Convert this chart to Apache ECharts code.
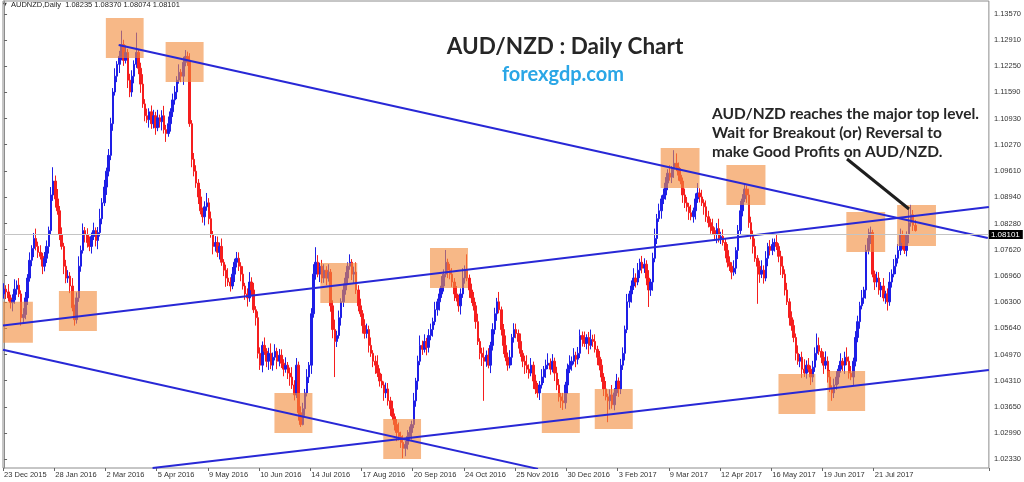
<!DOCTYPE html>
<html><head><meta charset="utf-8">
<script src="https://cdn.jsdelivr.net/npm/echarts@6/dist/echarts.min.js"></script>
<style>html,body{margin:0;padding:0;background:#fff}#c{width:1024px;height:482px}</style>
</head><body><div id="c"></div>
<script>
// ---- data (prices stored as pips above 1.0000, i.e. price = 1 + v/10000) ----
const xLabels = ['23 Dec 2015','28 Jan 2016','2 Mar 2016','5 Apr 2016','9 May 2016','10 Jun 2016','14 Jul 2016','17 Aug 2016','20 Sep 2016','24 Oct 2016','25 Nov 2016','30 Dec 2016','3 Feb 2017','9 Mar 2017','12 Apr 2017','16 May 2017','19 Jun 2017','21 Jul 2017'];
const yTicks = [1.02330,1.02990,1.03650,1.04310,1.04970,1.05640,1.06300,1.06960,1.07620,1.08280,1.08940,1.09610,1.10270,1.10930,1.11590,1.12250,1.12910,1.13570];
const closeP = [
662,655,640,628,635,662,672,650,590,598,
640,690,735,765,790,770,755,745,720,740,
770,810,900,935,890,860,800,770,720,690,
695,670,615,585,640,720,760,810,800,780,
770,795,810,785,805,840,880,920,960,1000,
1080,1160,1200,1230,1250,1280,1240,1260,1190,1160,
1200,1230,1260,1220,1180,1130,1100,1090,1110,1080,
1100,1070,1095,1085,1100,1065,1055,1080,1110,1140,
1160,1190,1210,1200,1235,1250,1240,1080,990,960,
930,895,860,845,870,880,840,800,770,780,
755,770,730,710,690,680,670,700,730,740,
720,700,670,650,640,680,660,610,590,500,
470,520,505,480,500,470,490,505,480,495,
475,460,470,450,440,420,395,470,350,320,
360,400,440,470,600,700,730,700,720,690,
710,690,705,620,560,530,545,590,630,660,
690,720,730,700,705,660,620,600,570,550,
560,520,500,480,470,450,430,420,400,410,
380,360,340,320,300,290,275,260,270,290,
300,320,380,430,480,520,510,530,515,545,
560,580,610,630,650,670,700,730,710,700,
680,650,640,620,650,690,710,690,660,640,
620,580,530,500,490,480,495,470,520,560,
600,630,610,560,520,490,470,490,540,560,
550,530,500,480,470,460,450,470,430,410,
400,420,440,460,470,475,460,480,450,420,
390,380,375,420,460,470,480,495,485,500,
545,535,525,540,520,535,530,510,490,470,
440,410,390,380,395,370,400,430,410,470,
500,560,630,650,670,690,680,710,730,715,
725,690,660,680,740,790,840,860,890,900,
930,955,945,965,980,970,950,935,900,880,
870,855,845,860,890,905,895,880,870,845,
830,820,810,800,815,790,795,780,760,730,
720,705,715,760,810,860,890,915,900,830,
800,770,740,720,700,710,690,740,770,760,
775,780,770,745,720,700,660,630,590,570,
540,500,480,490,460,450,470,460,440,465,
500,520,505,490,470,480,440,410,400,420,
440,460,480,470,490,480,450,440,480,540,
580,620,640,660,760,790,805,700,680,690,
660,670,640,650,630,680,700,720,740,760,
800,780,760,800,830,850,823.5,810.1];
const openP = [
650,662,655,640,628,635,662,672,650,590,
598,640,690,735,765,790,770,755,745,720,
740,770,810,900,935,890,860,800,770,720,
690,695,670,615,585,640,720,760,810,800,
780,770,795,810,785,805,840,880,920,960,
1000,1080,1160,1200,1230,1250,1280,1240,1260,1190,
1160,1200,1230,1260,1220,1180,1130,1100,1090,1110,
1080,1100,1070,1095,1085,1100,1065,1055,1080,1110,
1140,1160,1190,1210,1200,1235,1250,1240,1080,990,
960,930,895,860,845,870,880,840,800,770,
780,755,770,730,710,690,680,670,700,730,
740,720,700,670,650,640,680,660,610,590,
500,470,520,505,480,500,470,490,505,480,
495,475,460,470,450,440,420,395,470,350,
320,360,400,440,470,600,700,730,700,720,
690,710,690,705,620,560,530,545,590,630,
660,690,720,730,700,705,660,620,600,570,
550,560,520,500,480,470,450,430,420,400,
410,380,360,340,320,300,290,275,260,270,
290,300,320,380,430,480,520,510,530,515,
545,560,580,610,630,650,670,700,730,710,
700,680,650,640,620,650,690,710,690,660,
640,620,580,530,500,490,480,495,470,520,
560,600,630,610,560,520,490,470,490,540,
560,550,530,500,480,470,460,450,470,430,
410,400,420,440,460,470,475,460,480,450,
420,390,380,375,420,460,470,480,495,485,
500,545,535,525,540,520,535,530,510,490,
470,440,410,390,380,395,370,400,430,410,
470,500,560,630,650,670,690,680,710,730,
715,725,690,660,680,740,790,840,860,890,
900,930,955,945,965,980,970,950,935,900,
880,870,855,845,860,890,905,895,880,870,
845,830,820,810,800,815,790,795,780,760,
730,720,705,715,760,810,860,890,915,900,
830,800,770,740,720,700,710,690,740,770,
760,775,780,770,745,720,700,660,630,590,
570,540,500,480,490,460,450,470,460,440,
465,500,520,505,490,470,480,440,410,400,
420,440,460,480,470,490,480,450,440,480,
540,580,620,640,660,760,790,805,700,680,
690,660,670,640,650,630,680,700,720,740,
760,800,780,760,800,830,850,823.5];
const highP = [
677,672,675,648,649,687,684,690,659,614,
655,700,755,773,804,815,782,773,754,756,
785,820,920,970,949,915,872,818,779,736,
710,705,690,623,654,745,772,828,819,816,
795,805,830,818,819,865,892,938,969,1016,
1095,1170,1220,1238,1264,1315,1292,1278,1269,1206,
1215,1240,1310,1268,1234,1205,1142,1118,1119,1126,
1115,1110,1115,1103,1114,1125,1077,1098,1119,1156,
1175,1200,1230,1218,1249,1266,1262,1258,1089,1006,
975,940,915,868,884,905,892,858,809,796,
795,780,790,738,724,715,692,718,739,756,
755,730,720,678,664,705,692,678,619,606,
515,530,540,513,514,525,502,523,514,511,
510,485,490,478,464,465,432,488,479,366,
375,410,460,478,614,725,768,748,729,736,
725,720,725,713,634,585,557,608,639,676,
705,730,750,738,719,730,672,638,609,586,
575,570,540,508,494,495,462,448,429,426,
425,390,380,348,334,325,302,293,279,306,
315,330,400,438,494,545,532,548,539,561,
575,590,630,638,664,695,712,761,739,726,
715,690,670,648,664,715,722,750,699,676,
655,630,600,538,514,515,507,513,529,576,
615,640,655,618,574,545,502,508,549,576,
575,560,550,508,494,495,472,488,479,446,
425,430,460,468,484,500,487,498,489,466,
435,400,400,428,474,495,492,513,504,516,
560,555,555,548,554,560,547,548,519,506,
485,450,430,398,409,420,412,448,439,486,
515,570,650,658,684,715,702,728,739,746,
740,735,710,688,754,815,852,878,899,916,
945,965,975,973,1013,1005,982,968,944,916,
895,880,875,868,904,930,917,913,889,886,
860,840,840,818,829,840,807,813,789,776,
745,730,735,768,824,885,902,930,924,916,
845,810,790,748,734,735,722,758,779,786,
790,790,800,778,759,745,712,678,639,606,
585,550,520,498,504,485,482,488,469,481,
515,550,540,513,504,505,492,458,419,436,
455,470,500,488,504,515,492,468,489,556,
595,630,660,668,774,815,820,812,709,706,
705,680,690,658,664,705,712,738,749,776,
815,810,800,808,870,875,862,837];
const lowP = [
638,637,631,613,606,625,648,642,570,577,
586,622,681,720,743,760,741,737,700,707,
728,752,801,885,868,850,786,762,700,677,
678,652,606,570,575,630,706,752,780,767,
758,752,786,770,763,795,826,872,900,947,
988,1062,1151,1185,1208,1240,1226,1232,1170,1147,
1148,1182,1221,1205,1158,1120,1086,1082,1070,1067,
1068,1052,1061,1070,1063,1055,1034,1047,1060,1097,
1128,1142,1181,1185,1178,1225,1226,1072,970,947,
918,877,851,830,823,860,826,792,750,757,
743,737,721,695,668,670,656,662,680,717,
708,682,661,635,618,630,646,602,570,487,
458,452,496,465,458,460,456,482,460,467,
463,442,451,435,418,410,381,387,330,314,
318,342,391,425,448,590,686,692,680,677,
678,672,681,605,538,440,516,537,570,617,
648,672,711,685,678,650,606,592,550,537,
538,502,491,465,448,440,416,412,380,387,
368,342,331,305,278,280,261,235,240,257,
278,282,311,365,408,470,496,502,495,502,
533,542,571,595,608,640,656,692,690,687,
668,632,631,605,598,640,676,682,640,627,
608,562,521,485,468,380,466,462,450,507,
548,582,601,545,498,480,456,462,470,527,
538,512,491,465,448,450,436,442,410,397,
388,382,411,425,438,460,446,452,430,407,
378,362,357,360,398,450,456,472,465,472,
488,517,516,510,498,510,516,502,470,457,
428,392,381,326,358,360,356,392,390,397,
458,482,551,615,628,660,666,672,690,702,
703,672,617,645,658,730,776,832,840,877,
888,912,936,930,943,960,936,927,880,867,
858,837,836,830,838,880,881,872,850,832,
818,802,801,785,778,780,776,772,740,717,
708,687,696,700,738,800,846,882,880,817,
788,752,731,625,678,690,676,682,720,747,
748,757,761,730,698,690,646,622,570,557,
528,482,471,465,438,440,436,452,420,427,
453,482,496,475,448,460,426,402,380,387,
408,422,451,455,448,470,436,432,420,467,
528,562,611,625,638,750,776,692,660,667,
648,642,631,625,608,620,666,692,700,727,
748,762,751,745,778,820,809,807.4];
// trend lines: [barIndex1, price1, barIndex2, price2]
const trendLines = [
  [53.7, 1.12788, 461.0, 1.07912],
  [-0.5, 1.05700, 461.5, 1.08696],
  [-0.5, 1.05091, 250.2, 1.02080],
  [69.6, 1.02103, 461.5, 1.04578]
];
// highlighted zones: [barFrom, barTo, priceTop, priceBottom]
const zones = [
  [-0.5,13.5,1.06303,1.05268],[25.7,43.5,1.06574,1.05563],[47.7,65.4,1.13470,1.12459],
  [75.7,93.5,1.12863,1.11853],[126.7,144.5,1.03997,1.02987],[148.2,165.5,1.07281,1.06271],
  [177.7,195.4,1.03340,1.02330],[199.6,217.4,1.07660,1.06649],[252.0,269.8,1.03997,1.02987],
  [276.8,294.6,1.04098,1.03088],[307.7,325.9,1.10186,1.09176],[338.5,356.8,1.09756,1.08746],
  [362.9,380.2,1.04477,1.03467],[385.8,403.5,1.04553,1.03542],[394.7,412.9,1.08569,1.07559],
  [418.5,436.7,1.08746,1.07710]
];
const slots = 462;
// ---- build ----
const P = v => +(1 + v / 10000).toFixed(5);
const cats = Array.from({length: slots}, (_, i) => String(i));
const candles = closeP.map((c, i) => [P(openP[i]), P(c), P(lowP[i]), P(highP[i])]);
const n = closeP.length;
const lastBar = [P(openP[n-1]), P(highP[n-1]), P(lowP[n-1]), P(closeP[n-1])];
const lastClose = lastBar[3];
const showLab = i => i % 24 === 0 && i / 24 < xLabels.length;
const font = 'Liberation Sans, Arial, sans-serif';
const blue = '#2828d6';

const chart = echarts.init(document.getElementById('c'), null, {renderer: 'canvas'});
const series = [{
  type: 'candlestick', xAxisIndex: 0, yAxisIndex: 0, data: candles, barWidth: 2, z: 2,
  itemStyle: {color: '#1e1ee6', color0: '#f51e1e', borderColor: '#1e1ee6', borderColor0: '#f51e1e', borderWidth: 1},
  markLine: {silent: true, symbol: 'none', animation: false,
    data: [{yAxis: lastClose}],
    lineStyle: {color: '#c4c4c4', width: 1, type: 'solid'},
    label: {position: 'end', distance: 0, formatter: lastClose.toFixed(5), backgroundColor: '#000', color: '#fff',
      fontSize: 8, fontFamily: font, padding: [1, 3, 0, 2]}}
}, {
  type: 'custom', xAxisIndex: 1, yAxisIndex: 0, z: 3, clip: true, data: zones,
  encode: {x: [0, 1], y: [2, 3]},
  renderItem: (params, api) => {
    const a = api.coord([api.value(0), api.value(2)]);
    const b = api.coord([api.value(1), api.value(3)]);
    return {type: 'rect', shape: {x: a[0], y: a[1], width: b[0] - a[0], height: b[1] - a[1]},
      style: {fill: 'rgba(242,140,62,0.62)'}};
  }
}];
trendLines.forEach(t => series.push({
  type: 'line', xAxisIndex: 1, yAxisIndex: 0, z: 4, symbol: 'none', silent: true, clip: true,
  data: [[t[0], t[1]], [t[2], t[3]]], lineStyle: {color: blue, width: 2}
}));

chart.setOption({
  animation: false,
  backgroundColor: '#fff',
  grid: {left: 3, right: 33, top: 1, bottom: 14, show: true, borderColor: '#8c8c8c', borderWidth: 1},
  xAxis: [{
    type: 'category', data: cats, boundaryGap: true,
    axisLine: {show: false},
    axisTick: {show: true, interval: showLab, length: 3, lineStyle: {color: '#666'}},
    axisLabel: {interval: showLab, formatter: (v) => xLabels[Number(v) / 24] || '', align: 'left',
      fontSize: 7.5, color: '#333', margin: 3, fontFamily: font},
    splitLine: {show: false}
  }, {
    type: 'value', min: -0.5, max: slots - 0.5, show: false
  }],
  yAxis: [{
    type: 'value', position: 'right', min: 1.02103, max: 1.13899, scale: true,
    axisLine: {show: true, lineStyle: {color: '#8c8c8c'}},
    axisTick: {show: true, customValues: yTicks, length: 3, lineStyle: {color: '#666'}},
    axisLabel: {customValues: yTicks, formatter: v => v.toFixed(5), fontSize: 7.5, color: '#333', margin: 5, fontFamily: font},
    splitLine: {show: false}
  }],
  graphic: [
    {type: 'text', left: 3, top: 2, style: {text: '\u25BC', fontSize: 5, fill: '#333', fontFamily: 'DejaVu Sans'}},
    {type: 'text', left: 11, top: 1, style: {text: 'AUDNZD,Daily  ' + lastBar.map(v => v.toFixed(5)).join(' '),
      fontSize: 7.5, fill: '#222', fontFamily: font}},
    {type: 'text', x: 565, y: 47, style: {text: 'AUD/NZD : Daily Chart', fontSize: 22.5, fontWeight: 'bold',
      fill: '#262626', fontFamily: 'Lato, sans-serif', align: 'center', verticalAlign: 'middle'}},
    {type: 'text', x: 563, y: 75, style: {text: 'forexgdp.com', fontSize: 20, fontWeight: 'bold',
      fill: '#2aa6e6', fontFamily: 'Lato, sans-serif', align: 'center', verticalAlign: 'middle'}},
    {type: 'text', x: 712, y: 114, style: {text: 'AUD/NZD reaches the major top level.', fontSize: 15.5, fontWeight: 'bold',
      fill: '#262626', fontFamily: 'Lato, sans-serif', verticalAlign: 'middle'}},
    {type: 'text', x: 712, y: 133, style: {text: 'Wait for Breakout (or) Reversal to', fontSize: 15.5, fontWeight: 'bold',
      fill: '#262626', fontFamily: 'Lato, sans-serif', verticalAlign: 'middle'}},
    {type: 'text', x: 712, y: 152, style: {text: 'make Good Profits on AUD/NZD.', fontSize: 15.5, fontWeight: 'bold',
      fill: '#262626', fontFamily: 'Lato, sans-serif', verticalAlign: 'middle'}},
    {type: 'line', shape: {x1: 847, y1: 159, x2: 909, y2: 209}, style: {stroke: '#1e1e1e', lineWidth: 3}, z: 10}
  ],
  series
});
</script></body></html>
